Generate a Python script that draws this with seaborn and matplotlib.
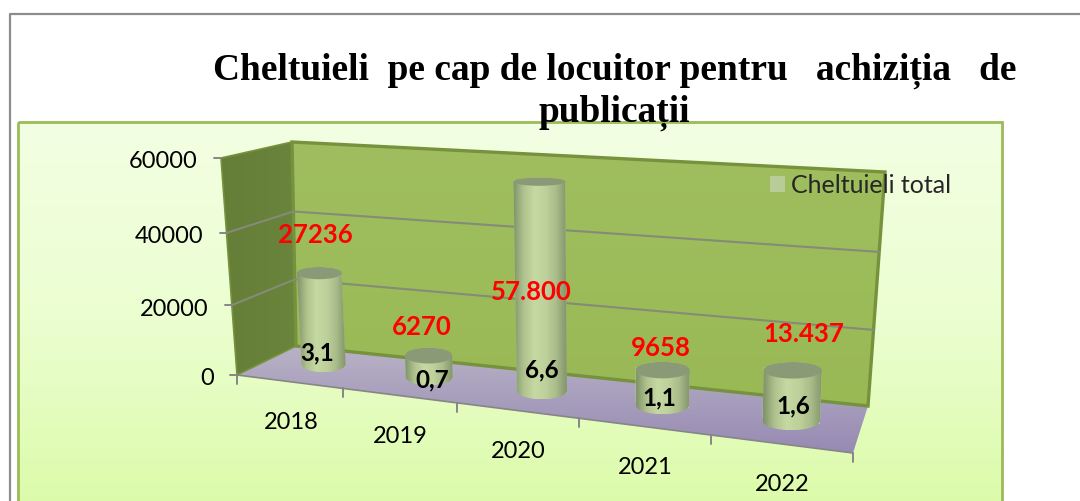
import numpy as np
import pandas as pd
import seaborn as sns
import matplotlib
matplotlib.use('Agg')
import matplotlib.pyplot as plt
from matplotlib.colors import LinearSegmentedColormap
from matplotlib.patches import Patch, Polygon, Ellipse, Rectangle
from matplotlib.path import Path
from matplotlib.transforms import Transform

# Chart data
years = ['2018', '2019', '2020', '2021', '2022']
cheltuieli = [27236, 6270, 57800, 9658, 13437]
red_labels = ['27236', '6270', '57.800', '9658', '13.437']
per_capita = ['3,1', '0,7', '6,6', '1,1', '1,6']
value_ticks = [0, 20000, 40000, 60000]

title_line1 = 'Cheltuieli  pe cap de locuitor pentru   achiziția   de'
title_line2 = 'publicații'
legend_name = 'Cheltuieli total'

# hand placed labels, pixels in the picture
red_pos = [(315, 235), (422, 327), (531, 292), (661, 348), (804, 334)]
black_pos = [(317, 353), (432, 380), (542, 370), (659, 398), (793, 406)]

W, H = 1080, 502
VMAX = 60000


class Perspective(Transform):
    """(category, value) -> pixel, a 3x3 homography"""
    input_dims = 2
    output_dims = 2

    def __init__(self, left_bottom, right_bottom, right_top, left_top):
        super().__init__()
        src = [(-0.5, 0), (4.5, 0), (4.5, VMAX), (-0.5, VMAX)]
        dst = [left_bottom, right_bottom, right_top, left_top]
        A, b = [], []
        for (x, y), (u, v) in zip(src, dst):
            A.append([x, y, 1, 0, 0, 0, -u * x, -u * y])
            A.append([0, 0, 0, x, y, 1, -v * x, -v * y])
            b += [u, v]
        self.m = np.append(np.linalg.solve(np.array(A, float), np.array(b, float)), 1).reshape(3, 3)

    def transform_non_affine(self, values):
        values = np.asarray(values, float)
        pts = np.column_stack([values, np.ones(len(values))]) @ self.m.T
        return pts[:, :2] / pts[:, 2:]


def gradient(ax, box, colors, horizontal=False, clip=None, zorder=1):
    cmap = LinearSegmentedColormap.from_list('g', colors)
    arr = np.linspace(0, 1, 256)
    arr = arr.reshape(1, -1) if horizontal else arr.reshape(-1, 1)
    x0, y0, x1, y1 = box
    im = ax.imshow(arr, cmap=cmap, extent=(x0, x1, y1, y0), aspect='auto', zorder=zorder)
    if clip is not None:
        im.set_clip_path(Path(clip), transform=ax.transData)
    return im


sns.set_theme(style='white')
plt.rcParams['font.family'] = ['Lato', 'DejaVu Sans']

fig = plt.figure(figsize=(W / 100, H / 100), dpi=100)
ax = fig.add_axes([0, 0, 1, 1])

# planes of the 3D box
back = Perspective((296, 347), (868, 407), (885, 173), (292, 143))
mid = Perspective((273, 359), (859, 430), (868, 194), (262, 158))
front = Perspective((237, 376), (853, 454), (873, 195), (221, 159))

# outer page frame and green panel
ax.plot([10, 10, W + 5], [H + 5, 15, 15], color='#8c8c8c', lw=1.6, zorder=1)
panel = [(18, 123), (1002, 123), (1002, H + 20), (18, H + 20)]
gradient(ax, (18, 123, 1002, H + 20), ['#f3ffe3', '#ebfed0', '#dbfba6'], clip=panel, zorder=1)
ax.add_patch(Polygon(panel, closed=True, fill=False, ec='#9bbb59', lw=2, zorder=2))

# walls and floor
pl, pr = -0.5, 4.5
wall_back = back.transform([(pl, 0), (pr, 0), (pr, VMAX), (pl, VMAX)])
wall_left = np.vstack([front.transform([(pl, 0), (pl, VMAX)]), back.transform([(pl, VMAX), (pl, 0)])])
floor = np.vstack([front.transform([(pl, 0), (pr, 0)]), back.transform([(pr, 0), (pl, 0)])])

gradient(ax, (285, 140, 890, 410), ['#a0be5f', '#99b955'], clip=wall_back, zorder=3)
gradient(ax, (215, 140, 300, 380), ['#647d38', '#6a853c'], horizontal=True, clip=wall_left, zorder=3)
gradient(ax, (235, 345, 870, 456), ['#b9b3c6', '#9689b3'], clip=floor, zorder=3)
ax.add_patch(Polygon(wall_back, closed=True, fill=False, ec='#76923c', lw=2.4, zorder=4))
ax.add_patch(Polygon(wall_left, closed=True, fill=False, ec='#76923c', lw=1.2, zorder=4))
ax.plot(*front.transform([(pl, 0), (pr, 0)]).T, color='#868686', lw=1.2, zorder=4)

# gridlines and value axis
for v in value_ticks:
    f = front.transform([(pl, v)])[0]
    b = back.transform([(pl, v)])[0]
    r = back.transform([(pr, v)])[0]
    if 0 < v < VMAX:
        ax.plot([f[0], b[0], r[0]], [f[1], b[1], r[1]], color='#848b78', lw=1.5, zorder=4)
    ax.plot([f[0] - 7, f[0]], [f[1], f[1]], color='#868686', lw=1.4, zorder=4)
    ax.text(f[0] - 23, f[1] + 3, str(v), ha='right', va='center', fontsize=17, color='black', zorder=8)

# category axis
for i in range(6):
    t = front.transform([(i - 0.5, 0)])[0]
    ax.plot([t[0], t[0]], [t[1], t[1] + 9], color='#868686', lw=1.4, zorder=4)
for i, yr in enumerate(years):
    t = front.transform([(i, 0)])[0]
    ax.text(t[0] + 2, t[1] + 40, yr, ha='center', va='center', fontsize=17, color='black', zorder=8)

# the bars, seaborn builds them and the transform puts them into the box
df = pd.DataFrame({'an': years, 'cheltuieli': cheltuieli})
sns.barplot(data=df, x='an', y='cheltuieli', ax=ax, color='#b8cc98', saturation=1,
            width=0.43, errorbar=None, zorder=5)

shade = ['#7f9268', '#b0c38e', '#c6d9a2', '#bfd19b', '#a9bc8a', '#82946b']
for p in ax.patches:
    if not isinstance(p, Rectangle) or abs(p.get_width() - 0.43) > 1e-6:
        continue
    p.set_transform(mid + ax.transData)
    p.set_linewidth(0)
    x0, w, h = p.get_x(), p.get_width(), p.get_height()
    (blx, bly), (brx, bry), (trx, try_), (tlx, tly) = mid.transform(
        [(x0, 0), (x0 + w, 0), (x0 + w, h), (x0, h)])
    cx_t, cy_t = (tlx + trx) / 2, (tly + try_) / 2
    cx_b, cy_b = (blx + brx) / 2, (bly + bry) / 2
    ry_t = 4 + (cy_t - 177) * 0.022
    ry_b = 4 + (cy_b - 177) * 0.022
    rx_t, rx_b = (trx - tlx) / 2, (brx - blx) / 2
    a = np.linspace(0, np.pi, 40)
    # outline = bottom arc then back over the top arc
    lower = np.column_stack([cx_b - rx_b * np.cos(a), cy_b + ry_b * np.sin(a)])
    upper = np.column_stack([cx_t + rx_t * np.cos(a), cy_t - ry_t * np.sin(a)])
    outline = np.vstack([lower, upper])
    left, right = outline[:, 0].min(), outline[:, 0].max()
    gradient(ax, (left, outline[:, 1].min(), right, outline[:, 1].max()), shade,
             horizontal=True, clip=outline, zorder=6)
    ax.add_patch(Ellipse((cx_t, cy_t), 2 * rx_t, 2 * ry_t, fc='#8b9a76', ec='none', zorder=6.5))

# value labels
for (x, y), s in zip(red_pos, red_labels):
    ax.text(x, y, s, color='#ff0000', fontsize=18.5, fontweight='bold', ha='center', va='center', zorder=9)
for (x, y), s in zip(black_pos, per_capita):
    ax.text(x, y, s, color='black', fontsize=17.5, fontweight='bold', ha='center', va='center', zorder=9)

# legend
ax.legend(handles=[Patch(fc='#b8cc98', ec='none', label=legend_name)], loc='center left',
          bbox_to_anchor=(770, 186), bbox_transform=ax.transData, frameon=False, fontsize=18,
          handlelength=0.6, handleheight=0.6, handletextpad=0.25, borderpad=0, borderaxespad=0)

# title
ax.text(615, 80, title_line1, family=['Liberation Serif', 'DejaVu Serif'], fontweight='bold', fontsize=26.9,
        ha='center', va='baseline', color='black', zorder=10)
ax.text(614, 122, title_line2, family=['Liberation Serif', 'DejaVu Serif'], fontweight='bold', fontsize=26.9,
        ha='center', va='baseline', color='black', zorder=10)

ax.set_xlim(0, W)
ax.set_ylim(H, 0)
ax.set_axis_off()
fig.savefig('out.png', dpi=100, facecolor='white')
